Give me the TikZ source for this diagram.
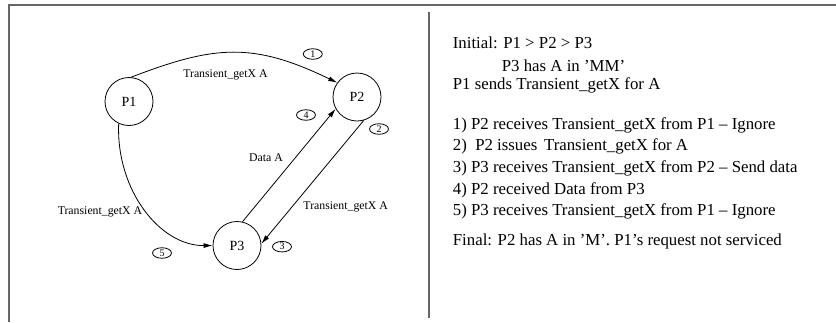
\documentclass[tikz,border=0pt]{standalone}
\usepackage{fontspec}
\setmainfont{Liberation Serif}
\usetikzlibrary{arrows.meta,shapes.geometric}
\begin{document}
\begin{tikzpicture}[x=1pt,y=-1pt,
  proc/.style={draw, circle, minimum size=48pt, inner sep=0pt, line width=0.8pt, font=\fontsize{14}{14}\selectfont},
  num/.style={draw, ellipse, minimum width=19pt, minimum height=10.5pt, inner sep=0pt, line width=0.8pt, font=\fontsize{10}{10}\selectfont},
  arr/.style={line width=0.8pt, -{Latex[length=9pt,width=5pt]}},
  elab/.style={font=\fontsize{11.8}{12}\selectfont, inner sep=0pt},
  txt/.style={anchor=base west, inner sep=0pt, font=\fontsize{16.8}{20}\selectfont},
  frame/.style={line width=1.6pt, draw=black!60}]
\useasboundingbox (0,0) rectangle (836,322);
% frame
\coordinate (tl) at (9,5);
\coordinate (tr) at (836,5);
\coordinate (bl) at (9,322);
\coordinate (dt) at (428.7,12);
\coordinate (db) at (428.7,318);
\draw[frame] (bl) -- (tl) -- (tr);
\draw[frame] (dt) -- (db);
% processes
\node[proc] (P1) at (129,101.5) {P1};
\node[proc] (P2) at (357,97) {P2};
\node[proc] (P3) at (237,245.5) {P3};
% edges
\draw[arr] (P1.85) .. controls (215,45) and (253,42) .. (P2.144);
\draw[arr] (P1.245) .. controls (116,190) and (160,246) .. (P3.180);
\draw[arr] (P2.286) -- (P3.4);
\draw[arr] (P3.77) -- (P2.209);
% edge labels
\node[elab] (l1) at (225.5,75) {Transient\_getX A};
\node[elab] (l2) at (100,212) {Transient\_getX A};
\node[elab] (l3) at (345.7,206.7) {Transient\_getX A};
\node[elab] (l4) at (266,158) {Data A};
% step numbers
\node[num] (n1) at (312.8,54) {\raisebox{-1.5pt}{1}};
\node[num] (n2) at (379,129) {\raisebox{-1.5pt}{2}};
\node[num] (n3) at (282,246.7) {\raisebox{-1.5pt}{3}};
\node[num] (n4) at (306,115) {\raisebox{-1.5pt}{4}};
\node[num] (n5) at (162,253) {\raisebox{-1.5pt}{5}};
% right text
\node[txt] (t1) at (452.7,48.3) {Initial: P1 > P2 > P3};
\node[txt] (t2) at (501.7,71.7) {P3 has A in 'MM'};
\node[txt] (t3) at (452.7,89.3) {P1 sends Transient\_getX for A};
\node[txt] (t4) at (452.7,129.3) {1) P2 receives Transient\_getX from P1 -- Ignore};
\node[txt] (t5) at (452.7,150) {2)\hspace{0.5em}P2 issues\hspace{0.4em}Transient\_getX for A};
\node[txt] (t6) at (452.7,172.7) {3) P3 receives Transient\_getX from P2 -- Send data};
\node[txt] (t7) at (452.7,194) {4) P2 received Data from P3};
\node[txt] (t8) at (452.7,215) {5) P3 receives Transient\_getX from P1 -- Ignore};
\node[txt] (t9) at (452.7,245.7) {Final: P2 has A in 'M'. P1's request not serviced};
\end{tikzpicture}
\end{document}
